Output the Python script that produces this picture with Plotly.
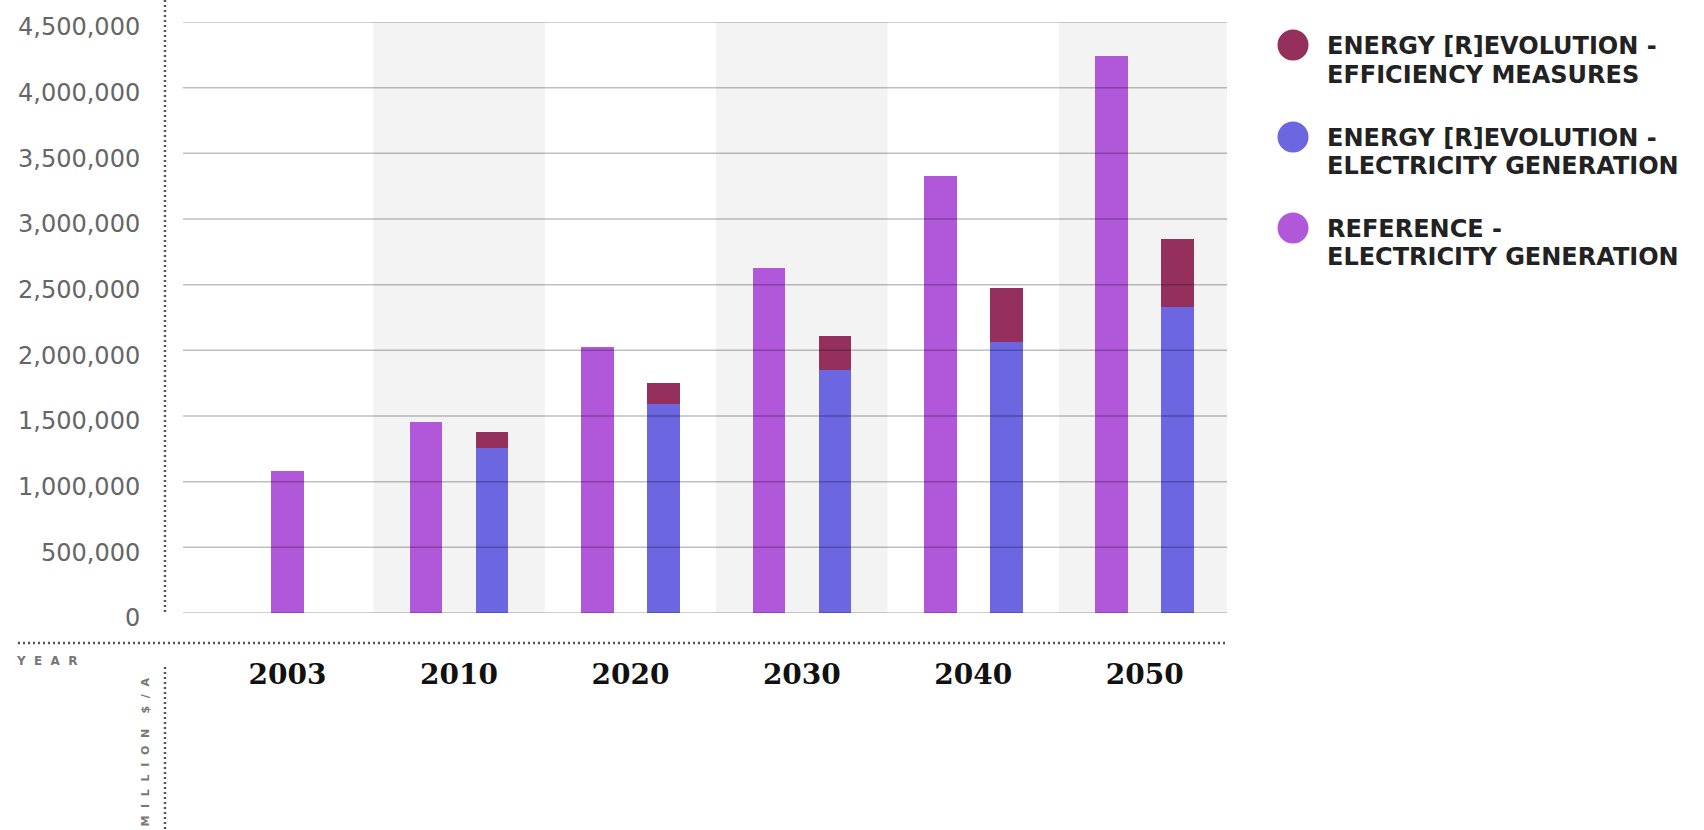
import numpy as np
import plotly.graph_objects as go

# ---- data -------------------------------------------------------------
years = ["2003", "2010", "2020", "2030", "2040", "2050"]
reference_generation = [1078000, 1458000, 2028000, 2624000, 3329000, 4239000]
er_generation = [None, 1255000, 1590000, 1853000, 2066000, 2330000]
er_efficiency = [None, 126000, 160000, 258000, 406000, 516000]
y_ticks = [0, 500000, 1000000, 1500000, 2000000, 2500000, 3000000, 3500000, 4000000, 4500000]

series_names = [
    ("ENERGY [R]EVOLUTION -", "EFFICIENCY MEASURES"),
    ("ENERGY [R]EVOLUTION -", "ELECTRICITY GENERATION"),
    ("REFERENCE -", "ELECTRICITY GENERATION"),
]

# ---- style ------------------------------------------------------------
C_REF = "#b157d9"
C_GEN = "#6c66e1"
C_EFF = "#94305b"
SERIES_COLORS = [C_EFF, C_GEN, C_REF]
BAND = "#f3f3f3"
DOTS = "#555555"

W, H = 1704, 830
ML, MR, MT, MB = 183, 477, 22, 217
PW, PH = W - ML - MR, H - MT - MB

OFFSET = 0.1925
BAR_W = 0.19

idx = np.arange(len(years))
ref_x = [i if er_generation[i] is None else i - OFFSET for i in idx]
er_x = [i + OFFSET for i in idx]


def px(xp):
    return (xp - ML) / PW


def py(yp):
    return 1 - (yp - MT) / PH


fig = go.Figure()
fig.add_bar(x=ref_x, y=reference_generation, width=BAR_W, marker_color=C_REF,
            marker_line_width=0, name="REFERENCE - ELECTRICITY GENERATION")
fig.add_bar(x=er_x, y=er_generation, width=BAR_W, marker_color=C_GEN,
            marker_line_width=0, name="ENERGY [R]EVOLUTION - ELECTRICITY GENERATION")
fig.add_bar(x=er_x, y=er_efficiency, width=BAR_W, marker_color=C_EFF,
            marker_line_width=0, name="ENERGY [R]EVOLUTION - EFFICIENCY MEASURES")

shapes = []
# alternating background bands behind every second year
for i in idx:
    if i % 2 == 1:
        shapes.append(dict(type="rect", xref="x", yref="paper", x0=i - 0.5, x1=i + 0.5,
                           y0=0, y1=1, fillcolor=BAND, line_width=0, layer="below"))
# horizontal grid drawn over the bars
for t in y_ticks:
    shapes.append(dict(type="line", xref="paper", yref="y", x0=0, x1=1, y0=t, y1=t,
                       line=dict(color="rgba(0,0,0,0.25)", width=1.5), layer="above"))
# dotted frame lines
dot = dict(color=DOTS, width=2.4, dash="2px,3px")
shapes.append(dict(type="line", xref="paper", yref="paper", x0=px(165), x1=px(165),
                   y0=py(0), y1=py(615), line=dot))
shapes.append(dict(type="line", xref="paper", yref="paper", x0=px(18), x1=px(1226),
                   y0=py(643), y1=py(643), line=dot))
shapes.append(dict(type="line", xref="paper", yref="paper", x0=px(165), x1=px(165),
                   y0=py(667), y1=py(832), line=dot))

annotations = []
# legend
leg_y = [45, 137, 228]
for (l1, l2), col, yc in zip(series_names, SERIES_COLORS, leg_y):
    r = 15.5
    shapes.append(dict(type="circle", xref="paper", yref="paper",
                       x0=px(1293 - r), x1=px(1293 + r), y0=py(yc + r), y1=py(yc - r),
                       fillcolor=col, line_width=0))
    for txt, yy in ((l1, yc + 1), (l2, yc + 29.5)):
        annotations.append(dict(text=txt, xref="paper", yref="paper", x=px(1325),
                                y=py(yy), xanchor="left", yanchor="middle", showarrow=False,
                                font=dict(family="DejaVu Sans", size=24, color="#222222",
                                          weight="bold")))

nb = "\u00a0\u00a0"
annotations.append(dict(text=nb.join("YEAR"), xref="paper", yref="paper", x=px(14),
                        y=py(661), xanchor="left", yanchor="middle", showarrow=False,
                        font=dict(family="DejaVu Sans", size=12, color="#777777",
                                  weight="bold")))
annotations.append(dict(text=nb.join("MILLION") + nb + nb + nb.join("$/A"),
                        xref="paper", yref="paper", x=px(145), y=py(676),
                        xanchor="center", yanchor="top", textangle=-90, showarrow=False,
                        font=dict(family="DejaVu Sans", size=11, color="#777777",
                                  weight="bold")))

fig.update_layout(
    width=W, height=H,
    margin=dict(l=ML, r=MR, t=MT, b=MB, pad=0, autoexpand=False),
    paper_bgcolor="white", plot_bgcolor="white",
    barmode="stack", showlegend=False,
    shapes=shapes, annotations=annotations,
    xaxis=dict(range=[-0.61, 5.48], tickmode="array", tickvals=idx, ticktext=years,
               automargin=False, showgrid=False, zeroline=False, showline=False,
               ticks="outside", ticklen=36, tickcolor="rgba(0,0,0,0)",
               tickfont=dict(family="DejaVu Serif", size=28, color="#111111", weight="bold")),
    yaxis=dict(range=[0, 4500000], tickmode="array", tickvals=y_ticks,
               automargin=False, tickformat=",", showgrid=False, zeroline=False, showline=False,
               ticks="outside", ticklen=37, tickcolor="rgba(0,0,0,0)", ticklabelshift=5,
               tickfont=dict(family="DejaVu Sans", size=24, color="#666666")),
)

fig.write_html("out.html")
